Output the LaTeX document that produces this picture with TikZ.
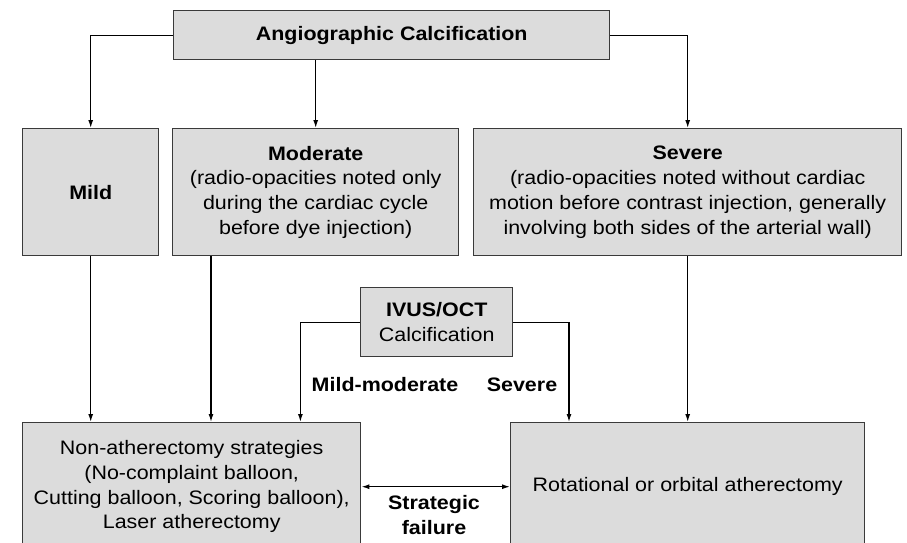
\documentclass[tikz,border=0pt]{standalone}
\usepackage{fontspec}
\setmainfont{Liberation Sans}[FakeStretch=1.1]
\usetikzlibrary{arrows.meta, positioning, calc}

\definecolor{boxfill}{HTML}{DCDCDC}
\definecolor{boxline}{HTML}{3A3A3A}

\begin{document}
\begin{tikzpicture}[
  x=1pt, y=-1pt,
  font=\fontsize{19.5}{24.8}\selectfont,
  box/.style={draw=boxline, line width=1.4pt, fill=boxfill, align=center,
              inner sep=2pt, anchor=north west},
  lbl/.style={font=\fontsize{19.5}{24.8}\selectfont\bfseries, align=center},
  wire/.style={line width=1.3pt, color=black},
  arr/.style={wire, -{Latex[length=8pt, width=5pt]}},
  darr/.style={wire, {Latex[length=8pt, width=5pt]}-{Latex[length=8pt, width=5pt]}}
]
\useasboundingbox (0,0) rectangle (907,543);
\clip (0,0) rectangle (907,543);

% first level
\node[box, minimum width=436pt, minimum height=49pt] (angio) at (173,10)
  {\textbf{Angiographic Calcification}};

% angiographic grades
\node[box, minimum width=136pt, minimum height=127pt] (mild) at (22,128)
  {\textbf{Mild}};
\node[box, minimum width=286pt, minimum height=127pt] (moderate) at (172,128)
  {\textbf{Moderate}\\(radio-opacities noted only\\during the cardiac cycle\\before dye injection)};
\node[box, minimum width=428pt, minimum height=127pt] (severe) at (473,128)
  {\textbf{Severe}\\(radio-opacities noted without cardiac\\motion before contrast injection, generally\\involving both sides of the arterial wall)};

% intravascular imaging
\node[box, minimum width=152pt, minimum height=69pt] (ivus) at (360,287)
  {\textbf{IVUS/OCT}\\Calcification};

% treatment
\node[box, minimum width=338pt, minimum height=128pt] (nonath) at (22,422)
  {Non-atherectomy strategies\\(No-complaint balloon,\\Cutting balloon, Scoring balloon),\\Laser atherectomy};
\node[box, minimum width=354pt, minimum height=128pt] (rot) at (510,422)
  {Rotational or orbital atherectomy};

\node[lbl] (mm) at (385,385) {Mild-moderate};
\node[lbl] (sv) at (522,385) {Severe};
\node[lbl] (fail) at (434,515) {Strategic\\failure};

\draw[arr] (angio.west) -| (mild.north);
\draw[arr] (angio.south -| moderate.north) -- (moderate.north);
\draw[arr] (angio.east) -| (severe.north);

\coordinate (m1) at ([xshift=39pt]moderate.south west);
\coordinate (i1) at ([xshift=-61pt]nonath.north east);
\coordinate (i2) at ([xshift=59pt]rot.north west);
\draw[arr] (mild.south) -- (mild.south |- nonath.north);
\draw[arr] (m1) -- (m1 |- nonath.north);
\draw[arr] (ivus.west) -| (i1);
\draw[arr] (ivus.east) -| (i2);
\draw[arr] (severe.south) -- (severe.south |- rot.north);
\draw[darr] (nonath.east) -- (rot.west);
\end{tikzpicture}
\end{document}
